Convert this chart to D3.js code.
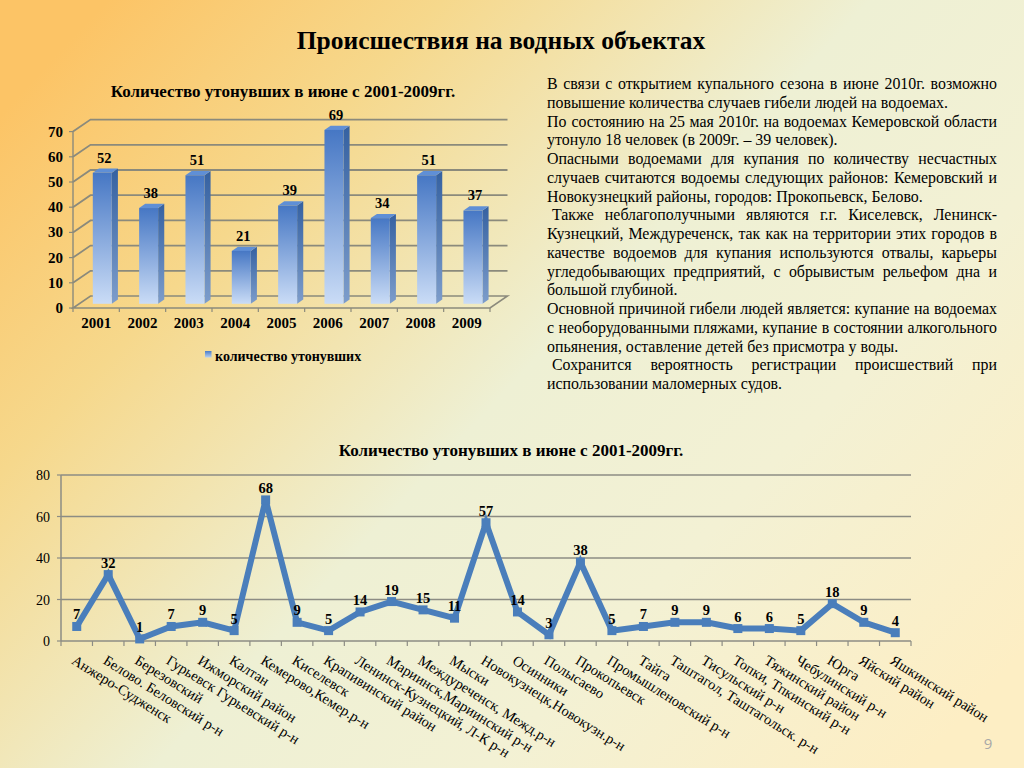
<!DOCTYPE html>
<html><head><meta charset="utf-8">
<script src="https://cdn.jsdelivr.net/npm/d3@7"></script>
<style>
html,body{margin:0;padding:0;overflow:hidden;background:#f3eccb;}
svg{display:block;}
text{font-family:"Liberation Serif","Times New Roman",serif;fill:#000;}
</style>
</head><body>
<svg id="c" width="1024" height="768"></svg>
<script>
// ---------- data ----------
const pageTitle = "Происшествия на водных объектах";
const chartTitle = "Количество утонувших в июне с 2001-2009гг.";
const legendLabel = "количество утонувших";
const years = ["2001","2002","2003","2004","2005","2006","2007","2008","2009"];
const drowned = [52,38,51,21,39,69,34,51,37];
const barTicks = [0,10,20,30,40,50,60,70];
const districts = ["Анжеро-Судженск","Белово. Беловский р-н","Березовский","Гурьевск Гурьевский р-н","Ижморский район","Калтан","Кемерово,Кемер.р-н","Киселевск","Крапивинский район","Ленинск-Кузнецкий,  Л-К р-н","Мариинск,Мариинский р-н","Междуреченск, Межд.р-н","Мыски","Новокузнецк,Новокузн.р-н","Осинники","Полысаево","Прокопьевск","Промышленовский р-н","Тайга","Таштагол, Таштагольск. р-н","Тисульский р-н","Топки, Тпкинский р-н","Тяжинский район","Чебулинский р-н","Юрга","Яйский район","Яшкинский район"];
const districtDrowned = [7,32,1,7,9,5,68,9,5,14,19,15,11,57,14,3,38,5,7,9,9,6,6,5,18,9,4];
const lineTicks = [0,20,40,60,80];
const paragraphLines = [
 "В связи с открытием купального сезона в июне 2010г. возможно",
 "повышение количества случаев гибели людей на водоемах.",
 "По состоянию на 25 мая 2010г. на водоемах Кемеровской области",
 "утонуло 18 человек (в 2009г. – 39 человек).",
 "Опасными водоемами для купания по количеству несчастных",
 "случаев считаются водоемы следующих районов: Кемеровский и",
 "Новокузнецкий районы, городов: Прокопьевск, Белово.",
 " Также неблагополучными являются г.г. Киселевск, Ленинск-",
 "Кузнецкий, Междуреченск, так как на территории этих городов в",
 "качестве водоемов для купания используются отвалы, карьеры",
 "угледобывающих предприятий, с обрывистым рельефом дна и",
 "большой глубиной.",
 "Основной причиной гибели людей является: купание на водоемах",
 "с необорудованными пляжами, купание в состоянии алкогольного",
 "опьянения, оставление детей без присмотра у воды.",
 " Сохранится вероятность регистрации происшествий при",
 "использовании маломерных судов."
];
const paragraphJustified = [1,0,1,0,1,1,0,1,1,1,1,0,1,1,0,1,0];
const pageNumber = "9";

// ---------- setup ----------
const svg = d3.select("#c");
const defs = svg.append("defs");
const bg = defs.append("linearGradient").attr("id","bg").attr("x1","0").attr("y1","0.15").attr("x2","1").attr("y2","0.85");
[["0","#fcc466"],["0.22","#f6d88c"],["0.5","#eef0d4"],["0.72","#f3f1d4"],["1","#fdeec4"]].forEach(s=>bg.append("stop").attr("offset",s[0]).attr("stop-color",s[1]));
svg.append("rect").attr("width",1024).attr("height",768).attr("fill","url(#bg)");

function grad(id, c0, c1){
  const g = defs.append("linearGradient").attr("id",id).attr("x1",0).attr("y1",0).attr("x2",0).attr("y2",1);
  g.append("stop").attr("offset",0).attr("stop-color",c0);
  g.append("stop").attr("offset",1).attr("stop-color",c1);
}
grad("front","#4677c4","#cadcf6");
grad("side","#3561a1","#7d9dcb");
grad("leg","#4a7cc8","#b8d0f0");

// page title
svg.append("text").attr("x",501).attr("y",49).attr("text-anchor","middle")
  .style("font-size","25.5px").style("font-weight","bold").text(pageTitle);

// ---------- 3D bar chart ----------
const bx0=73, bx1=490, by0=308, dX=17.5, dY=-12;
const xb = d3.scaleBand().domain(years).range([bx0,bx1]);
const yb = d3.scaleLinear().domain([0,70]).range([by0, by0-70*2.52]);
const gridC = "#8b8a7c";
const gb = svg.append("g");
gb.append("text").attr("x",283).attr("y",97).attr("text-anchor","middle")
  .style("font-size","17px").style("font-weight","bold").text(chartTitle);
// floor
gb.append("path").attr("d",`M${bx0},${by0}L${bx1},${by0}L${bx1+dX},${by0+dY}L${bx0+dX},${by0+dY}Z`)
  .attr("fill","none").attr("stroke",gridC).attr("stroke-width",1.6);
// back & side wall gridlines
barTicks.filter(t=>t>0).forEach(t=>{
  const y=yb(t);
  gb.append("path").attr("d",`M${bx0},${y}L${bx0+dX},${y+dY}L${bx1+dX},${y+dY}`)
    .attr("fill","none").attr("stroke",gridC).attr("stroke-width",1.8);
});
// vertical axis
gb.append("line").attr("x1",bx0).attr("x2",bx0).attr("y1",yb(70)).attr("y2",by0).attr("stroke",gridC).attr("stroke-width",1.4);
barTicks.forEach(t=>{
  gb.append("line").attr("x1",bx0-4).attr("x2",bx0).attr("y1",yb(t)).attr("y2",yb(t)).attr("stroke",gridC).attr("stroke-width",1.2);
  gb.append("text").attr("x",63).attr("y",yb(t)+5).attr("text-anchor","end")
    .style("font-size","15px").style("font-weight","bold").text(t);
});
// x ticks
d3.range(years.length+1).forEach(i=>{
  const x = bx0 + i*xb.step();
  gb.append("line").attr("x1",x).attr("x2",x).attr("y1",by0).attr("y2",by0+4).attr("stroke",gridC).attr("stroke-width",1.2);
});
const f=0.35, bw=19, sd=dX*f, sdy=dY*f;
years.forEach((yr,i)=>{
  const v=drowned[i];
  const cx = xb(yr)+xb.bandwidth()/2 + f*dX;
  const fx = cx-bw/2;
  const base = by0 + f*dY, top = yb(v) + f*dY;
  gb.append("path").attr("d",`M${fx+bw},${base}L${fx+bw+sd},${base+sdy}L${fx+bw+sd},${top+sdy}L${fx+bw},${top}Z`).attr("fill","url(#side)");
  gb.append("path").attr("d",`M${fx},${top}L${fx+bw},${top}L${fx+bw+sd},${top+sdy}L${fx+sd},${top+sdy}Z`).attr("fill","#5f8fd6");
  gb.append("rect").attr("x",fx).attr("y",top).attr("width",bw).attr("height",base-top).attr("fill","url(#front)");
  gb.append("text").attr("x",cx+sd/2-1).attr("y",top+sdy-6).attr("text-anchor","middle")
    .style("font-size","14.5px").style("font-weight","bold").text(v);
  gb.append("text").attr("x",xb(yr)+xb.bandwidth()/2).attr("y",328).attr("text-anchor","middle")
    .style("font-size","15px").style("font-weight","bold").text(yr);
});
// legend
gb.append("rect").attr("x",205).attr("y",351).attr("width",6.5).attr("height",6.5).attr("fill","url(#leg)");
gb.append("text").attr("x",215).attr("y",361).style("font-size","14px").style("font-weight","bold").text(legendLabel);

// ---------- paragraph ----------
const pg = svg.append("g").attr("transform","translate(547,0)");
const pW = 450, pSize = 15.9;
paragraphLines.forEach((line,i)=>{
  const y = 89 + i*18.75;
  const indent = line.startsWith(" ") ? 5 : 0;
  const txt = line.trim();
  if(!paragraphJustified[i]){
    pg.append("text").attr("x",indent).attr("y",y).style("font-size",pSize+"px").text(txt);
    return;
  }
  const words = txt.split(/\s+/);
  const t = pg.append("text").attr("y",y).style("font-size",pSize+"px");
  const spans = words.map(w=>t.append("tspan").text(w));
  const widths = spans.map(s=>s.node().getComputedTextLength());
  const total = d3.sum(widths);
  const gap = (pW - indent - total)/(words.length-1);
  let x = indent;
  spans.forEach((s,k)=>{ s.attr("x",x); x += widths[k]+gap; });
});

// ---------- line chart ----------
const gl = svg.append("g");
const lx0=61, lx1=911;
const xl = d3.scaleBand().domain(districts).range([lx0,lx1]);
const yl = d3.scaleLinear().domain([0,80]).range([641,475]);
gl.append("text").attr("x",511).attr("y",456).attr("text-anchor","middle")
  .style("font-size","17px").style("font-weight","bold").text(chartTitle);
lineTicks.forEach(t=>{
  gl.append("line").attr("x1",lx0).attr("x2",lx1).attr("y1",yl(t)).attr("y2",yl(t))
    .attr("stroke","#8c8c84").attr("stroke-width",1.5);
  gl.append("line").attr("x1",lx0-4).attr("x2",lx0).attr("y1",yl(t)).attr("y2",yl(t)).attr("stroke","#8c8c84").attr("stroke-width",1.2);
  gl.append("text").attr("x",50).attr("y",yl(t)+5).attr("text-anchor","end")
    .style("font-size","14px").text(t);
});
gl.append("line").attr("x1",lx0).attr("x2",lx0).attr("y1",yl(80)).attr("y2",yl(0)).attr("stroke","#8c8c84").attr("stroke-width",1.5);
d3.range(districts.length+1).forEach(i=>{
  const x = lx0 + i*xl.step();
  gl.append("line").attr("x1",x).attr("x2",x).attr("y1",yl(0)).attr("y2",yl(0)+5).attr("stroke","#8c8c84").attr("stroke-width",1.2);
});
const cxl = d=>xl(d)+xl.bandwidth()/2;
const pts = districts.map((d,i)=>[cxl(d), yl(districtDrowned[i])]);
gl.append("path").attr("d",d3.line()(pts)).attr("fill","none").attr("stroke","#4a7ebb")
  .attr("stroke-width",6).attr("stroke-linejoin","miter");
pts.forEach(p=>gl.append("rect").attr("x",p[0]-4.5).attr("y",p[1]-4.5).attr("width",9).attr("height",9).attr("fill","#4a7ebb"));
districts.forEach((d,i)=>{
  gl.append("text").attr("x",cxl(d)).attr("y",yl(districtDrowned[i])-7).attr("text-anchor","middle")
    .style("font-size","14.5px").style("font-weight","bold").text(districtDrowned[i]);
  gl.append("text").attr("transform",`translate(${cxl(d)-6},663) rotate(32)`)
    .style("font-size","14.5px").text(d);
});

// page number
svg.append("text").attr("x",988).attr("y",749).attr("text-anchor","middle")
  .style("font-family","'Open Sans',sans-serif").style("font-size","15px").style("fill","#a8a8a8").text(pageNumber);
</script>
</body></html>
